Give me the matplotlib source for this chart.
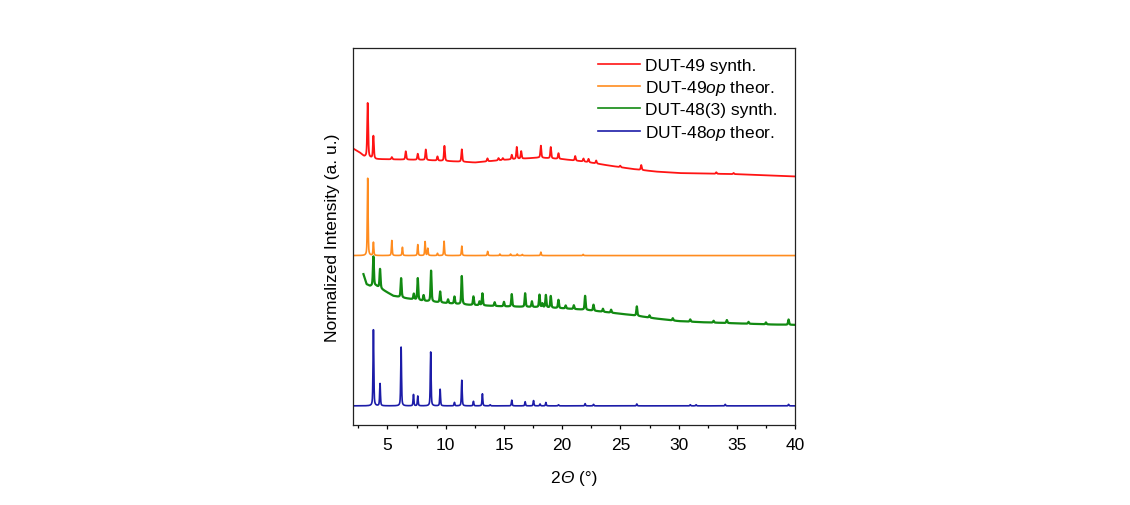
import numpy as np
import matplotlib
matplotlib.use("Agg")
import matplotlib.pyplot as plt
from matplotlib.ticker import MultipleLocator
from matplotlib.offsetbox import TextArea, HPacker, AnchoredOffsetbox

# ---------------- data ----------------
# DUT-49 synth. (red)
red_bg_x = [2.0, 2.6, 3.0, 4.0, 8.0, 12.0, 12.5, 15.0, 18.0, 20.0, 22.0, 24.0, 26.0, 28.0, 30.0, 35.0, 40.0]
red_bg_y = [73.4, 72.3, 71.2, 70.5, 70.3, 69.7, 69.6, 70.3, 70.9, 70.5, 69.8, 68.8, 67.9, 67.2, 66.8, 66.5, 65.9]
red_pos = [3.30, 3.79, 5.37, 6.57, 7.60, 8.29, 9.29, 9.89, 11.38, 13.58, 14.53, 14.9, 15.67, 16.10, 16.48,
           18.17, 19.02, 19.68, 21.12, 21.83, 22.26, 22.92, 24.98, 26.79, 33.23, 34.72]
red_h = [14.4, 6.0, 0.6, 2.2, 1.6, 2.8, 1.1, 4.0, 3.3, 0.8, 0.6, 0.5, 1.2, 3.2, 2.0,
         3.2, 3.0, 1.5, 1.2, 0.8, 0.9, 0.8, 0.4, 1.3, 0.4, 0.3]

# DUT-49op theor. (orange)
orange_base = 44.9
orange_pos = [3.30, 3.79, 5.37, 6.28, 7.60, 8.23, 8.46, 9.29, 9.86, 11.38, 13.60, 14.65, 15.57, 16.14,
              16.57, 18.17, 21.80]
orange_h = [20.5, 3.5, 4.0, 2.2, 2.9, 3.7, 1.9, 0.6, 3.8, 2.5, 1.1, 0.4, 0.4, 0.4,
            0.3, 0.9, 0.3]

# DUT-48(3) synth. (green)
green_start = 2.93
green_bg_x = [2.93, 3.2, 3.5, 4.0, 4.6, 5.5, 6.5, 8.0, 10.0, 12.0, 15.0, 18.0, 20.0, 22.0, 24.0, 26.0,
              28.0, 30.0, 32.0, 35.0, 38.0, 40.0]
green_bg_y = [40.0, 37.3, 36.8, 36.9, 35.8, 34.2, 33.6, 32.9, 32.3, 31.8, 31.4, 31.2, 30.9, 30.5, 29.8, 29.1,
              28.2, 27.5, 27.2, 26.9, 26.6, 26.5]
green_pos = [3.79, 4.36, 6.17, 7.26, 7.60, 8.10, 8.74, 9.52, 10.20, 10.75, 11.38, 12.38, 12.90, 13.15,
             14.20, 15.00, 15.67, 16.82, 17.40, 18.05, 18.30, 18.60, 19.02, 19.68, 20.30, 21.00,
             21.97, 22.69, 23.50, 24.20, 26.41, 27.50, 29.50, 31.00, 33.00, 34.14, 36.00, 37.50, 39.44]
green_h = [7.8, 5.1, 5.1, 1.5, 5.8, 1.5, 8.2, 2.9, 1.0, 1.9, 7.5, 2.3, 1.0, 3.2,
           1.0, 1.2, 3.3, 3.6, 1.5, 3.3, 1.0, 3.3, 3.1, 2.2, 0.8, 1.0,
           3.7, 1.6, 0.8, 0.8, 2.5, 0.6, 0.6, 0.6, 0.5, 0.8, 0.5, 0.5, 1.4]

# DUT-48op theor. (blue)
blue_base = 5.0
blue_pos = [3.79, 4.36, 6.17, 7.23, 7.60, 8.71, 9.52, 10.75, 11.38, 12.38, 13.15, 13.81, 15.67, 16.82,
            17.54, 18.10, 18.60, 19.68, 21.97, 22.69, 26.41, 31.00, 31.50, 34.00, 39.44]
blue_h = [20.2, 5.9, 15.6, 3.0, 2.6, 14.3, 4.4, 0.9, 6.8, 1.2, 3.2, 0.3, 1.5, 1.1,
          1.4, 0.5, 0.9, 0.3, 0.6, 0.4, 0.5, 0.3, 0.3, 0.4, 0.4]

labels = ["DUT-49 synth.", r"DUT-49$\mathit{op}$ theor.", "DUT-48(3) synth.", r"DUT-48$\mathit{op}$ theor."]
colors = ["#ff1414", "#ff8c1f", "#128a12", "#1c1ca8"]
widths = [1.3, 1.2, 1.6, 1.2]

# ---------------- style ----------------
plt.rcParams["font.family"] = ["Liberation Sans", "DejaVu Sans"]
plt.rcParams["mathtext.fontset"] = "custom"
plt.rcParams["mathtext.rm"] = "Liberation Sans"
plt.rcParams["mathtext.it"] = "Liberation Sans:italic"

FS = 12.5


def pattern(x, pos, h, fwhm=0.08, eta=0.5):
    y = np.zeros_like(x)
    for p, a in zip(pos, h):
        d = (x - p) / (fwhm / 2.0)
        y += a * (eta / (1 + d ** 2) + (1 - eta) * np.exp(-np.log(2) * d ** 2))
    return y


x = np.arange(2.0, 40.0001, 0.005)
red = np.interp(x, red_bg_x, red_bg_y) + pattern(x, red_pos, red_h, fwhm=0.1)
orange = orange_base + pattern(x, orange_pos, orange_h, fwhm=0.08)
green = np.interp(x, green_bg_x, green_bg_y) + pattern(x, green_pos, green_h, fwhm=0.1)
green[x < green_start] = np.nan
blue = blue_base + pattern(x, blue_pos, blue_h, fwhm=0.08)

fig = plt.figure(figsize=(11.3, 5.06), dpi=100)
ax = fig.add_axes([0.312, 0.1587, 0.3916, 0.7445])

for yy, c, lab, w in zip([red, orange, green, blue], colors, labels, widths):
    ax.plot(x, yy, color=c, lw=w, label=lab)

ax.set_xlim(2, 40)
ax.set_ylim(0, 100)
ax.xaxis.set_major_locator(MultipleLocator(5))
ax.xaxis.set_minor_locator(MultipleLocator(2.5))
ax.set_yticks([])
ax.tick_params(axis="x", which="major", direction="out", length=3, width=0.9, labelsize=FS, pad=6)
ax.tick_params(axis="x", which="minor", direction="out", length=2.5, width=0.9)
for s in ax.spines.values():
    s.set_linewidth(0.9)
    s.set_color("#222222")

# x label "2Θ (°)" with italic Θ
parts = [TextArea("2", textprops=dict(size=FS)),
         TextArea("Θ", textprops=dict(size=FS, style="italic")),
         TextArea(" (°)", textprops=dict(size=FS))]
xlab = AnchoredOffsetbox(loc="center", child=HPacker(children=parts, align="baseline", pad=0, sep=0),
                         pad=0, borderpad=0, frameon=False, bbox_to_anchor=(0.5, -0.139),
                         bbox_transform=ax.transAxes)
ax.add_artist(xlab)

ax.set_ylabel("Normalized Intensity (a. u.)", fontsize=FS, labelpad=9)

leg = ax.legend(loc="upper left", bbox_to_anchor=(0.555, 0.974), frameon=False, fontsize=FS,
                handlelength=2.4, handletextpad=0.3, labelspacing=0.3, borderpad=0, borderaxespad=0)
for line in leg.get_lines():
    line.set_linewidth(1.2)

fig.savefig("out.png", dpi=100)
